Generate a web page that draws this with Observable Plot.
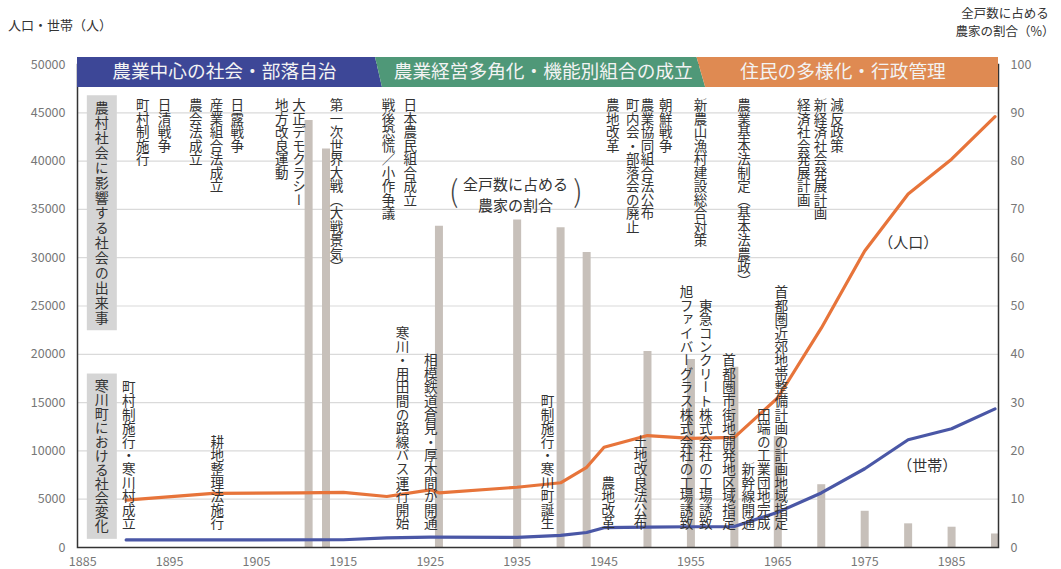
<!DOCTYPE html>
<html><head><meta charset="utf-8">
<script src="https://cdn.jsdelivr.net/npm/d3@7"></script>
<script src="https://cdn.jsdelivr.net/npm/@observablehq/plot@0.6"></script>
<style>
body{margin:0;background:#fff;font-family:"Noto Sans CJK JP","Noto Sans",sans-serif;}
#wrap{position:relative;width:1061px;height:569px;overflow:hidden;}
#wrap svg{position:absolute;left:0;top:0;}
.t{position:absolute;color:#333;font-size:13px;z-index:2;}
</style></head><body>
<div id="wrap">
<div class="t" style="left:8px;top:15px;">人口・世帯（人）</div>
<div class="t" style="left:945px;top:4px;width:120px;text-align:center;line-height:18px;font-size:12.5px;">全戸数に占める<br>農家の割合（%）</div>
</div>
<script>
// ---- data ----
const popYears  = [1890,1900,1910,1915,1920,1925,1926,1935,1940,1943,1945,1950,1955,1960,1965,1970,1975,1980,1985,1990];
const popValues = [4900,5600,5650,5700,5280,5970,5660,6240,6700,8300,10380,11590,11300,11400,15500,22700,30700,36600,40200,44600];
const hhYears   = [1890,1915,1920,1925,1935,1940,1943,1945,1950,1955,1960,1965,1970,1975,1980,1985,1990];
const hhValues  = [780,800,1000,1070,1050,1250,1550,2050,2100,2150,2170,3650,5650,8150,11150,12300,14350];
const barYears  = [1911,1913,1926,1935,1940,1943,1950,1955,1960,1965,1970,1975,1980,1985,1990];
const barPct    = [88.4,82.5,66.5,67.8,66.2,61.1,40.6,38.9,37.3,23,13.0,7.5,4.9,4.2,2.8];

const upperEvents = ["町村制施行","日清戦争","農会法成立","産業組合法成立","日露戦争","地方改良運動","大正デモクラシー","第一次世界大戦（大戦景気）","戦後恐慌／小作争議","日本農民組合成立","農地改革","町内会・部落会の廃止","農業協同組合法公布","朝鮮戦争","新農山漁村建設総合対策","農業基本法制定（基本法農政）","経済社会発展計画","新経済社会発展計画","減反政策"];
const upperX = [1891.9,1894.4,1898.0,1900.4,1902.8,1907.9,1909.9,1914.2,1920.2,1922.7,1946.0,1948.3,1950.0,1952.1,1956.1,1961.1,1968.0,1969.9,1971.8];

const lowerEvents = ["町村制施行・寒川村成立","耕地整理法施行","寒川・用田間の路線バス運行開始","相模鉄道倉見・厚木間が開通","町制施行・寒川町誕生","農地改革","土地改良法公布","旭ファイバーグラス株式会社の工場誘致","東急コンクリート株式会社の工場誘致","首都圏市街地開発地区域指定","新幹線開通","田端の工業団地完成","首都圏近郊地帯整備計画の計画地域指定"];
const lowerX = [1890.3,1900.5,1921.8,1925.05,1938.5,1945.5,1949.2,1954.5,1956.7,1959.4,1961.6,1963.4,1965.4];

const sideLabels = ["農村社会に影響する社会の出来事","寒川町における社会変化"];
const sideX = [1887.2,1887.2];

const bandNames  = ["農業中心の社会・部落自治","農業経営多角化・機能別組合の成立","住民の多様化・行政管理"];
const bandColors = ["#3d4797","#4f9878","#df8a52"];
const bandTextX  = [1901.3,1938.0,1972.5];
const bandEdgesTop    = [1884.4,1918.7,1955.7,1990.4];
const bandEdgesBottom = [1884.4,1919.5,1956.7,1990.4];
const bandTopValue = 50725, bandBottomValue = 47620;

const xTicks = d3.range(1885,1986,10);
const yTicks = d3.range(0,50001,5000);

// ---- build ----
const FONT = '"Noto Sans CJK JP","Noto Sans",sans-serif';
const pop = popYears.map((y,i)=>({year:y,value:popValues[i]}));
const hh = hhYears.map((y,i)=>({year:y,value:hhValues[i]}));
const bars = barYears.map((y,i)=>({year:y,pct:barPct[i]}));
const upper = upperEvents.map((t,i)=>({label:t,x:upperX[i]}));
const lower = lowerEvents.map((t,i)=>({label:t,x:lowerX[i]}));

const bandMarks = bandNames.map((n,i)=>Plot.areaX([
  {y:bandTopValue, x1:bandEdgesTop[i], x2:bandEdgesTop[i+1]},
  {y:bandBottomValue, x1:bandEdgesBottom[i], x2:bandEdgesBottom[i+1]}
],{y:"y",x1:"x1",x2:"x2",fill:bandColors[i],curve:"linear"}));

const chart = Plot.plot({
  width:1061, height:569,
  marginTop:64, marginBottom:22, marginLeft:77, marginRight:63,
  style:{fontFamily:FONT, fontSize:"12.5px", background:"#fff"},
  x:{domain:[1884.4,1990.4], label:null},
  y:{domain:[0,50000], label:null},
  marks:[
    Plot.gridY(yTicks.slice(1),{stroke:"#dadada",strokeOpacity:1,strokeWidth:1.2}),
    Plot.ruleX(bars,{x:"year",y1:0,y2:d=>d.pct*500,stroke:"#c7c0ba",strokeWidth:8}),
    Plot.line(hh,{x:"year",y:"value",stroke:"#4a57a6",strokeWidth:3.2}),
    Plot.line(pop,{x:"year",y:"value",stroke:"#e7743a",strokeWidth:3.2}),
    Plot.text([sideLabels[0]],{x:sideX[0],y:46300,text:d=>d,textAnchor:"start",lineAnchor:"bottom",fontSize:14,fill:"#333"}),
    Plot.text([sideLabels[1]],{x:sideX[1],y:1550,text:d=>d,textAnchor:"end",lineAnchor:"bottom",fontSize:14,fill:"#333"}),
    Plot.text(upper,{x:"x",y:46500,text:"label",textAnchor:"start",lineAnchor:"bottom",fontSize:13.5,fill:"#333"}),
    Plot.text(lower,{x:"x",y:1800,text:"label",textAnchor:"end",lineAnchor:"bottom",fontSize:13.6,fill:"#333"}),
    Plot.text(["全戸数に占める\n農家の割合"],{x:1934.8,y:36650,text:d=>d,fontSize:15,lineHeight:1.4,fill:"#333"}),
    Plot.text(["(",")"],{x:(d,i)=>i?1942.0:1927.7,y:36800,text:d=>d,fontSize:30,fill:"#444",fontWeight:300}),
    Plot.text(["（人口）"],{x:1980.0,y:31470,text:d=>d,fontSize:15,fill:"#333"}),
    Plot.text(["（世帯）"],{x:1982.2,y:8385,text:d=>d,fontSize:15,fill:"#333"}),
    Plot.frame({stroke:"#333",strokeWidth:1.5}),
    ...bandMarks,
    Plot.text(bandNames,{x:(d,i)=>bandTextX[i],y:(bandTopValue+bandBottomValue)/2,text:d=>d,fontSize:18.7,fill:"#f3f3f3"}),
    Plot.axisY(yTicks,{anchor:"left",tickSize:0,tickPadding:12,tickFormat:d=>String(d),color:"#777",fontSize:12.5}),
    Plot.axisY(yTicks,{anchor:"right",tickSize:0,tickPadding:12,tickFormat:d=>String(d/500),color:"#777",fontSize:12.5}),
    Plot.axisX(xTicks,{anchor:"bottom",tickSize:0,tickPadding:10,tickFormat:d=>String(d),color:"#777",fontSize:12.5})
  ]
});
document.getElementById("wrap").appendChild(chart);

const vertSet = new Set([...upperEvents, ...lowerEvents, ...sideLabels]);
const sideSet = new Set(sideLabels);
const allText = Array.from(chart.querySelectorAll("text"));
allText.forEach(t=>{
  if (vertSet.has(t.textContent)) {
    t.setAttribute("writing-mode","vertical-rl");
    t.style.writingMode = "vertical-rl";
    t.style.textOrientation = "mixed";
  }
});
allText.filter(t=>sideSet.has(t.textContent)).forEach((t,i)=>{
  if (t.textContent === sideLabels[0]) t.style.letterSpacing = "1px";
  const bb = t.getBBox();
  const c = t.transform.baseVal.consolidate();
  const tx = c ? c.matrix.e : 0, ty = c ? c.matrix.f : 0;
  const r = document.createElementNS("http://www.w3.org/2000/svg","rect");
  r.setAttribute("x", tx + bb.x - 5);
  r.setAttribute("y", ty + bb.y - 5);
  r.setAttribute("width", bb.width + 10);
  r.setAttribute("height", bb.height + 10);
  r.setAttribute("fill", "#d5d5d5");
  r.setAttribute("stroke", "none");
  t.parentNode.insertBefore(r, t);
});
</script>
</body></html>
